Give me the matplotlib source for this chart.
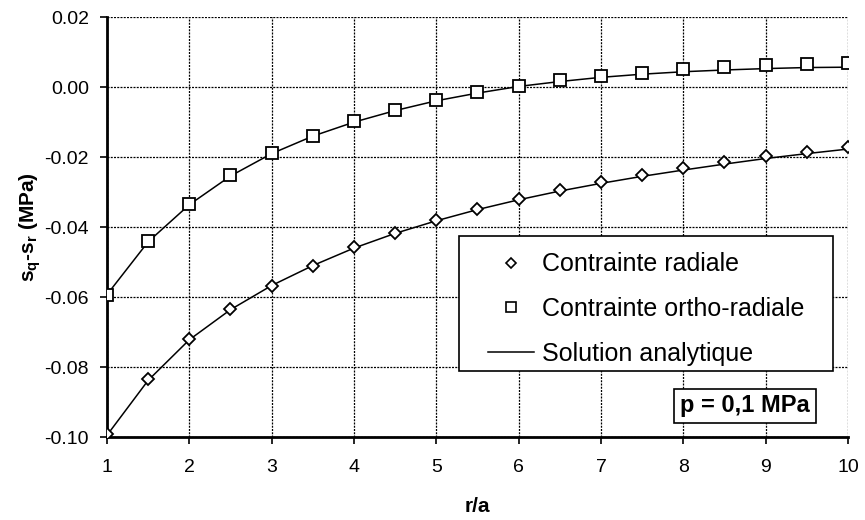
import numpy as np
import matplotlib
matplotlib.use("Agg")
import matplotlib.pyplot as plt
from matplotlib.lines import Line2D
from matplotlib.patches import Rectangle

plt.rcParams['font.family'] = ['Liberation Sans', 'DejaVu Sans']
plt.rcParams['axes.unicode_minus'] = False

# r/a positions of the computed points
r = [1.0, 1.5, 2.0, 2.5, 3.0, 3.5, 4.0, 4.5, 5.0, 5.5,
     6.0, 6.5, 7.0, 7.5, 8.0, 8.5, 9.0, 9.5, 10.0]

# numerical results (MPa)
radiale = [-0.0992, -0.0835, -0.0721, -0.0635, -0.0567, -0.0510, -0.0457,
           -0.0417, -0.0380, -0.0349, -0.0321, -0.0294, -0.0272, -0.0251,
           -0.0232, -0.0215, -0.0198, -0.0184, -0.0171]
ortho = [-0.0593, -0.0440, -0.0334, -0.0252, -0.0189, -0.0140, -0.0097,
         -0.0066, -0.0037, -0.0013, 0.0004, 0.0019, 0.0032, 0.0041,
         0.0051, 0.0057, 0.0063, 0.0066, 0.0068]

# analytic curves read at the same r/a
ana_radiale = [-0.0995, -0.0838, -0.0722, -0.0636, -0.0567, -0.0510, -0.0460,
               -0.0418, -0.0382, -0.0350, -0.0322, -0.0297, -0.0275, -0.0255,
               -0.0237, -0.0220, -0.0204, -0.0190, -0.0177]
ana_ortho = [-0.0593, -0.0442, -0.0336, -0.0254, -0.0190, -0.0140, -0.0100,
             -0.0067, -0.0039, -0.0017, 0.0002, 0.0016, 0.0028, 0.0037,
             0.0044, 0.0049, 0.0053, 0.0056, 0.0057]

xticks = list(range(1, 11))
yticks = [-0.10, -0.08, -0.06, -0.04, -0.02, 0.00, 0.02]

fig = plt.figure(figsize=(8.65, 5.2), dpi=100)
ax = fig.add_axes([0.1237, 0.1596, 0.8566, 0.8074])

ax.plot(r, ana_radiale, color='black', lw=1.1, zorder=3)
ax.plot(r, ana_ortho, color='black', lw=1.1, zorder=3)
ax.plot(r, radiale, ls='none', marker='D', ms=6.5, mfc='white', mec='black',
        mew=1.3, zorder=4)
ax.plot(r, ortho, ls='none', marker='s', ms=9, mfc='white', mec='black',
        mew=1.3, zorder=4)

ax.set_xlim(1, 10)
ax.set_ylim(-0.10, 0.02)
ax.set_xticks(xticks)
ax.set_yticks(yticks)
ax.set_yticklabels(['%.2f' % v for v in yticks])
ax.tick_params(labelsize=14, direction='out', length=5, width=1.2, pad=8)
ax.tick_params(axis='x', pad=11)

ax.grid(True, color='black', linestyle=(0, (1.6, 1.0)), linewidth=0.9)
ax.set_axisbelow(True)
for s in ['top', 'right']:
    ax.spines[s].set_visible(False)
for s in ['left', 'bottom']:
    ax.spines[s].set_linewidth(2)

ax.set_xlabel('r/a', fontsize=15, fontweight='bold', labelpad=15)
ax.set_ylabel(r'$\mathregular{s_q}$-$\mathregular{s_r}$ (MPa)', fontsize=15,
              fontweight='bold', labelpad=1)

# legend frame drawn separately so the entries can sit further in
ax.add_patch(Rectangle((0.475, 0.157), 0.505, 0.322, transform=ax.transAxes,
                       fc='white', ec='black', lw=1.2, zorder=5))

handles = [
    Line2D([], [], ls='none', marker='D', ms=5, mfc='white', mec='black', mew=1.2),
    Line2D([], [], ls='none', marker='s', ms=7, mfc='white', mec='black', mew=1.2),
    Line2D([], [], color='black', lw=1.1),
]
labels = ['Contrainte radiale', 'Contrainte ortho-radiale', 'Solution analytique']
leg = ax.legend(handles, labels, loc='upper left',
                bbox_to_anchor=(0.497, 0.4695), frameon=False,
                fontsize=18, handlelength=1.85, handletextpad=0.3,
                labelspacing=0.83, borderpad=0.5, borderaxespad=0)
leg.set_zorder(6)

ax.text(0.861, 0.074, 'p = 0,1 MPa', transform=ax.transAxes, fontsize=17,
        fontweight='bold', ha='center', va='center', zorder=7,
        bbox=dict(boxstyle='square,pad=0.25', fc='white', ec='black', lw=1.2))

fig.savefig('out.png', dpi=100)
